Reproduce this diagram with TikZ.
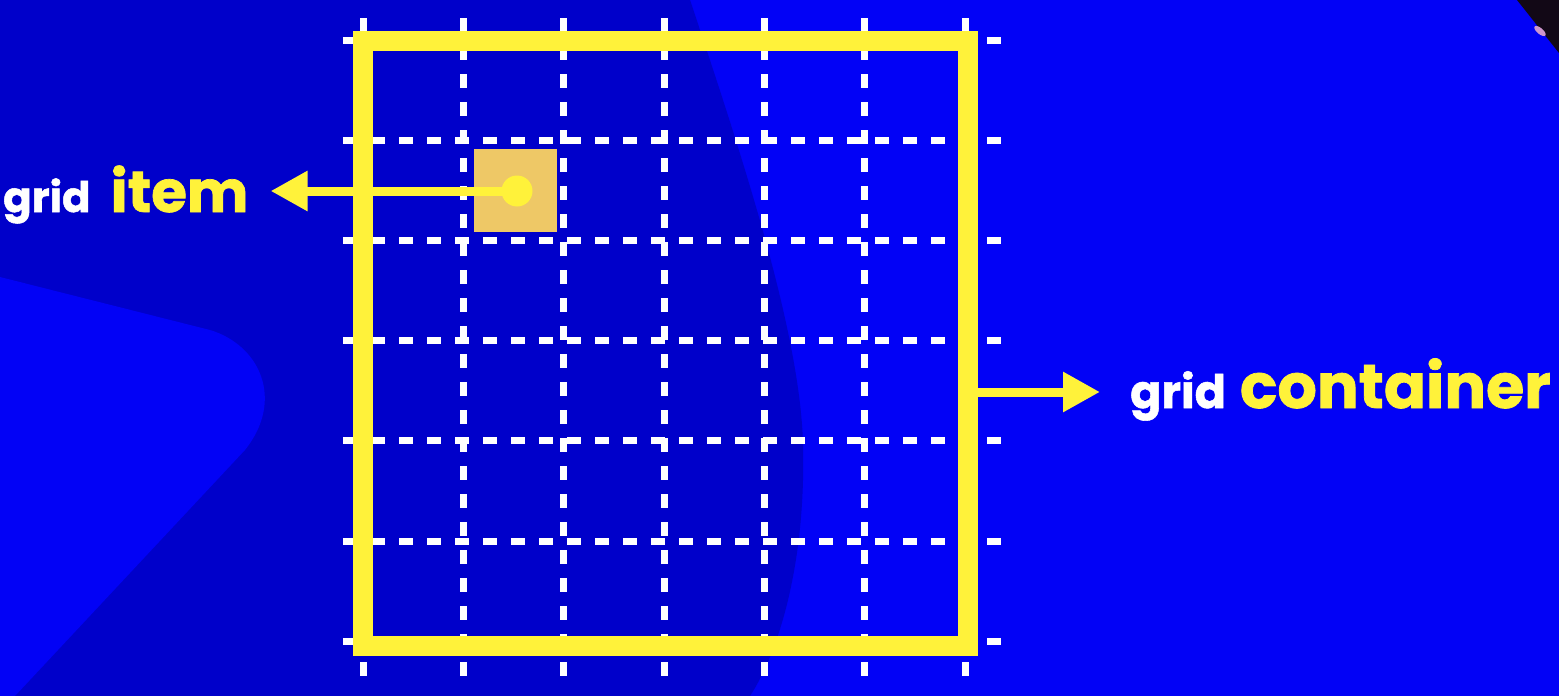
\documentclass[tikz,border=0pt]{standalone}
\usepackage{fontspec}
\newfontfamily\labelfont{Poppins}[BoldFeatures={FakeBold=1.2}]
\usetikzlibrary{arrows.meta}
\usetikzlibrary{positioning}

\begin{document}
\begin{tikzpicture}[x=1pt, y=-1pt, line join=miter]

	\definecolor{blueBg}{RGB}{2,2,246}
	\definecolor{blueDark}{RGB}{0,0,202}
	\definecolor{yellowA}{RGB}{255,242,58}
	\definecolor{itemFill}{RGB}{238,200,102}
	\definecolor{cornerK}{RGB}{18,8,22}
	\definecolor{smudge}{RGB}{205,150,205}

	\tikzset{
		gridline/.style={white, line width=7pt, dash pattern=on 14pt off 14pt},
		frame/.style={draw=yellowA, line width=20pt, minimum width=605pt, minimum height=605pt, inner sep=0pt, outer sep=0pt},
		cell/.style={fill=itemFill, minimum size=83pt, inner sep=0pt},
		knob/.style={circle, fill=yellowA, minimum size=31pt, inner sep=0pt},
		arrowY/.style={-{Triangle[length=37pt, width=38pt]}, draw=yellowA, line width=9pt},
		lab/.style={inner sep=0pt, anchor=base west, font=\labelfont\bfseries},
	}

	\useasboundingbox (0,0) rectangle (1559,696);

	% --- background shapes
	\fill[blueBg] (0,0) rectangle (1559,696);
	\fill[blueDark] (0,0) -- (690,0) .. controls (740,150) and (800,330) .. (803,444)
		.. controls (806,560) and (780,650) .. (750,696) -- (0,696) -- cycle;
	\fill[blueBg] (0,277) -- (210,330) .. controls (260,345) and (285,400) .. (245,450)
		-- (15,696) -- (0,696) -- cycle;
	\fill[cornerK] (1517,0) -- (1559,0) -- (1559,53) -- cycle;
	\fill[smudge, rotate around={-40:(1540,31)}] (1540,31) ellipse (7 and 3);

	% --- dashed grid lines
	\foreach \x in {363,463.3,563.7,664,764.3,864.7,965}
		\draw[gridline] (\x,18) -- (\x,676);
	\foreach \y in {40,140,240,340.5,440.7,541,641}
		\draw[gridline] (343,\y) -- (1001,\y);

	% --- container frame and item
	\node[frame] (container) at (665.5,343.5) {};
	\node[cell] (item) at (515.5,190.5) {};
	\node[knob] (dot) at (517,191) {};

	% --- labels
	\node[lab] (itemlabel) at (3,212) {{\color{white}\fontsize{42}{42}\selectfont grid}\hspace{20pt}{\color{yellowA}\fontsize{58}{58}\selectfont item}};
	\node[lab] (containerlabel) at (1130,408) {{\color{white}\fontsize{46}{46}\selectfont grid}\hspace{14pt}{\color{yellowA}\fontsize{62}{62}\selectfont container}};

	% --- arrows
	\coordinate (tail) at ([yshift=-48.5pt]container.east);
	\draw[arrowY, shorten >=22pt] (dot.center) -- (dot.center -| itemlabel.east);
	\draw[arrowY, shorten >=30pt] (tail) -- (tail -| containerlabel.west);

\end{tikzpicture}
\end{document}
